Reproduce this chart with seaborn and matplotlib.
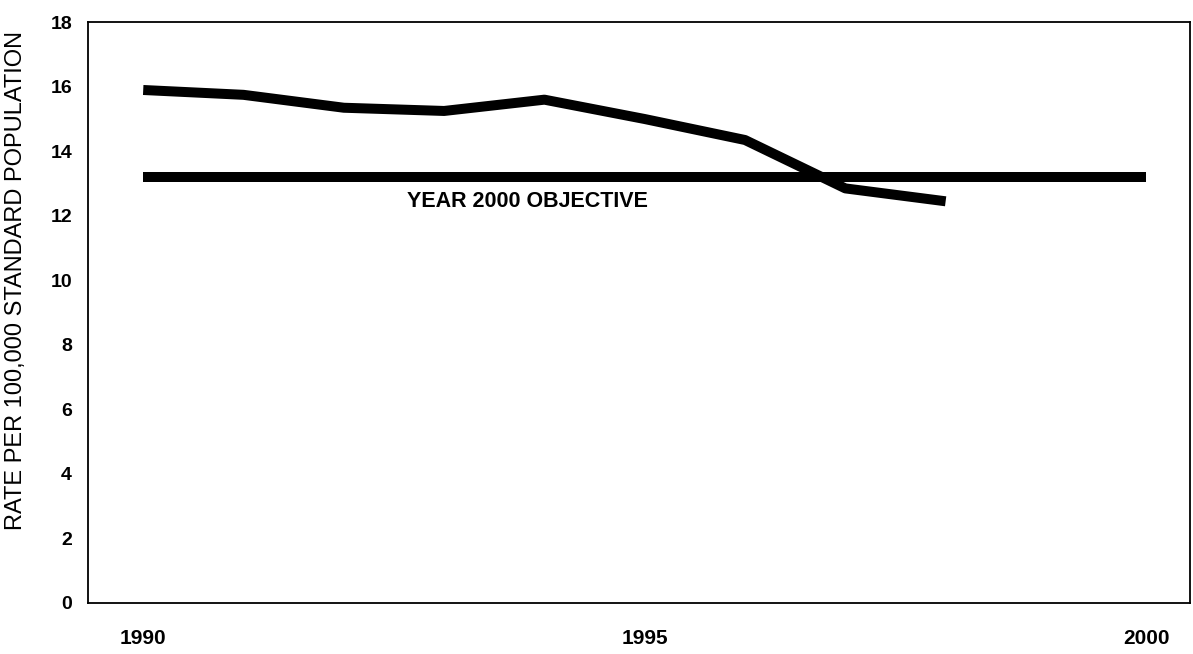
import matplotlib
matplotlib.use("Agg")
import matplotlib.pyplot as plt
import seaborn as sns
import pandas as pd

years = [1990, 1991, 1992, 1993, 1994, 1995, 1996, 1997, 1998]
rates = [15.9, 15.75, 15.35, 15.25, 15.6, 15.0, 14.35, 12.85, 12.45]
objective_years = [1990, 2000]
objective_values = [13.2, 13.2]
x_ticks = [1990, 1995, 2000]
y_ticks = list(range(0, 19, 2))
objective_label = "YEAR 2000 OBJECTIVE"
y_title = "RATE PER 100,000 STANDARD POPULATION"

sns.set_style("white")
plt.rcParams['font.family'] = ['Liberation Sans', 'DejaVu Sans']
plt.rcParams['text.color'] = 'black'
plt.rcParams['axes.labelcolor'] = 'black'
plt.rcParams['xtick.color'] = 'black'
plt.rcParams['ytick.color'] = 'black'

fig = plt.figure(figsize=(11.93, 6.54), dpi=100)
ax = fig.add_axes([0.0738, 0.078, 0.924, 0.888])

df = pd.DataFrame({"year": years, "rate": rates})
obj = pd.DataFrame({"year": objective_years, "rate": objective_values})

sns.lineplot(data=obj, x="year", y="rate", ax=ax, color="black", linewidth=7.2,
             solid_capstyle="butt")
sns.lineplot(data=df, x="year", y="rate", ax=ax, color="black", linewidth=7.2,
             solid_capstyle="butt", solid_joinstyle="round")

ax.text(1992.63, 12.45, objective_label, fontsize=15.5, fontweight="bold",
        ha="left", va="center", color="black")

ax.set_xlim(1989.45, 2000.44)
ax.set_ylim(0, 18)
ax.set_xticks(x_ticks)
ax.set_xticklabels([str(t) for t in x_ticks], fontsize=15, fontweight="bold")
ax.set_yticks(y_ticks)
ax.set_yticklabels([str(t) for t in y_ticks], fontsize=14, fontweight="bold")
ax.tick_params(axis="x", length=0, pad=19)
ax.tick_params(axis="y", length=0, pad=11.5)
ax.set_xlabel("")
ax.set_ylabel(y_title, fontsize=17, color="black")
ax.yaxis.set_label_coords(-0.055, 0.556)

for s in ax.spines.values():
    s.set_visible(True)
    s.set_color("black")
    s.set_linewidth(1.3)

fig.savefig("out.png", dpi=100, facecolor="white")
